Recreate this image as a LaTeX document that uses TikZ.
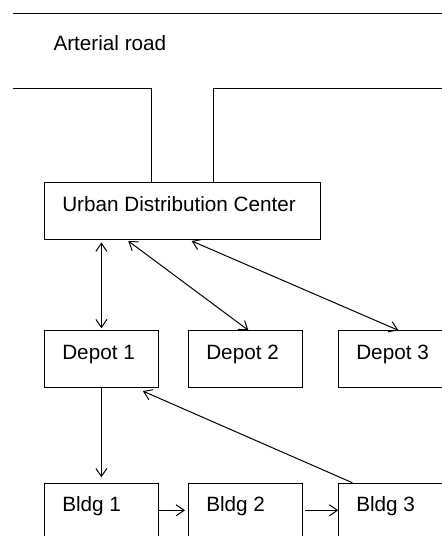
\documentclass[tikz,border=0pt]{standalone}
\usepackage{fontspec}
\setmainfont{Liberation Sans}
\usetikzlibrary{arrows.meta}
\begin{document}
\begin{tikzpicture}[x=1pt,y=-1pt,
  line width=1pt,
  every node/.style={font=\fontsize{20.7}{24}\selectfont},
  box/.style={draw, rectangle, inner sep=0pt, anchor=north west,
    minimum width=113.2pt, minimum height=56.5pt},
  bigbox/.style={box, minimum width=276pt},
  tag/.style={label={[anchor=base west, inner sep=0pt, xshift=17.5pt, yshift=-29pt]north west:#1}},
  barb/.style={-{Straight Barb[length=8pt,width=11pt]}},
  dbarb/.style={{Straight Barb[length=8pt,width=11pt]}-{Straight Barb[length=8pt,width=11pt]}}]
\useasboundingbox (0,0) rectangle (442,536);
\clip (0,0) rectangle (442,536);

% boxes
\node[bigbox, tag=Urban Distribution Center] (udc) at (44.3,182) {};
\node[box, tag=Depot 1] (d1) at (44.3,330.3) {};
\node[box, tag=Depot 2] (d2) at (188.3,330.3) {};
\node[box, tag=Depot 3] (d3) at (338.3,330.3) {};
\node[box, tag=Bldg 1] (b1) at (44.3,482.7) {};
\node[box, tag=Bldg 2] (b2) at (188.3,482.7) {};
\node[box, tag=Bldg 3] (b3) at (338.3,482.7) {};

% arterial road and access street
\node[anchor=base west, inner sep=0pt] (road) at (53,50) {Arterial road};
\draw (12.7,13.3) -- (450,13.3);
\draw (12.7,88.3) -- (151.3,88.3) -- (151.3,0 |- udc.north);
\draw (450,88.3) -- (213.3,88.3) -- (213.3,0 |- udc.north);

% distribution center to depots
\draw[dbarb] ([yshift=-3pt]udc.south -| d1.north) -- ([yshift=2pt]d1.north);
\draw[dbarb] ([xshift=84pt,yshift=-1.5pt]udc.south west) -- ([xshift=3pt]d2.north);
\draw[dbarb] ([xshift=147.4pt,yshift=-1.5pt]udc.south west) -- ([xshift=60pt]d3.north west);

% depot to buildings loop
\draw[barb] (d1.south) -- ([yshift=5.4pt]b1.north);
\draw[barb] ([yshift=-27.6pt]b1.north east) -- ([xshift=-3.3pt,yshift=-27.6pt]b2.north west);
\draw[barb] ([xshift=2.3pt,yshift=-27.6pt]b2.north east) -- ([yshift=-27.6pt]b3.north west);
\draw[barb] ([xshift=14pt]b3.north west) -- ([xshift=-15.6pt,yshift=-3.3pt]d1.south east);
\end{tikzpicture}
\end{document}
